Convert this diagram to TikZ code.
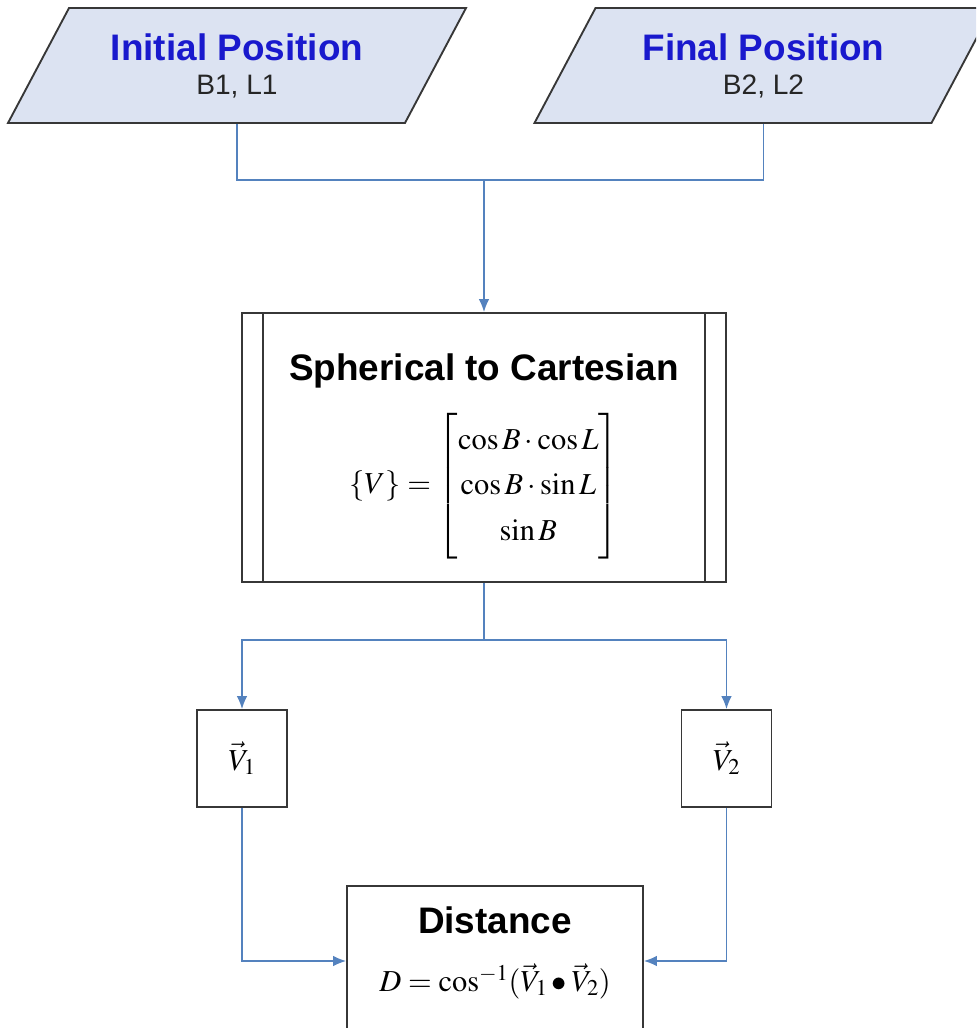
\documentclass[tikz,border=0pt]{standalone}
\usepackage{amsmath}
\usepackage{mathptmx}
\usepackage[no-math]{fontspec}
\newfontfamily\arial{Liberation Sans}
\usetikzlibrary{shapes.geometric,arrows.meta,positioning}
\definecolor{InputFill}{RGB}{220,227,242}
\definecolor{TitleBlue}{RGB}{25,25,205}
\definecolor{FlowBlue}{RGB}{84,130,190}
\definecolor{EdgeGray}{RGB}{55,55,55}

\begin{document}
\begin{tikzpicture}[
    inputbox/.style={trapezium, trapezium left angle=46.5, trapezium right angle=133.5,
      trapezium stretches body, draw=EdgeGray, line width=1.6pt, fill=InputFill,
      minimum width=13.74cm, minimum height=3.45cm, inner sep=0pt, align=center,
      font=\arial\fontsize{24}{29}\selectfont, text=black!85},
    procbox/.style={draw=EdgeGray, line width=1.6pt, fill=white, align=center, inner sep=0pt,
      font=\fontsize{26}{31}\selectfont},
    flow/.style={draw=FlowBlue, line width=1.2pt},
    flowarrow/.style={flow, -{Latex[length=11pt,width=9pt]}}
  ]
    \useasboundingbox (0,0) rectangle (29.28,-30.84);
    \clip (0,0) rectangle (29.28,-30.84);

    % inputs
    \node[inputbox] (init) at (7.11,-1.965)
      {{\color{TitleBlue}\bfseries\fontsize{31.5}{36}\selectfont Initial Position}\\B1, L1};
    \node[inputbox] (final) at (22.905,-1.965)
      {{\color{TitleBlue}\bfseries\fontsize{31.5}{36}\selectfont Final Position}\\B2, L2};
    \coordinate (merge) at (14.52,-5.4);

    % conversion
    \node[procbox, minimum width=14.52cm, minimum height=8.07cm] (sph) at (14.52,-13.425)
      {{\arial\bfseries\fontsize{31.5}{36}\selectfont\rule{0pt}{38pt}Spherical to Cartesian}\\[20pt]
       $\{V\}=\renewcommand{\arraystretch}{1.25}\begin{bmatrix}\cos B\cdot\cos L\\ \cos B\cdot\sin L\\ \sin B\end{bmatrix}$};
    \draw[EdgeGray, line width=1.6pt] ([xshift=0.66cm]sph.north west) -- ([xshift=0.66cm]sph.south west);
    \draw[EdgeGray, line width=1.6pt] ([xshift=-0.66cm]sph.north east) -- ([xshift=-0.66cm]sph.south east);
    \coordinate (split) at (14.52,-19.2);

    % vectors
    \node[procbox, minimum width=2.7cm, minimum height=2.91cm] (v1) at (7.26,-22.755) {$\vec{V}_1$};
    \node[procbox, minimum width=2.7cm, minimum height=2.91cm] (v2) at (21.795,-22.755) {$\vec{V}_2$};

    % result
    \node[procbox, minimum width=8.88cm, minimum height=4.5cm] (dist) at (14.85,-28.83)
      {{\arial\bfseries\fontsize{31.5}{36}\selectfont Distance}\\[18pt]
       $D=\cos^{-1}(\vec{V}_1\bullet\vec{V}_2)$\rule[-20pt]{0pt}{20pt}};

    \draw[flow] (init.south) |- (merge);
    \draw[flow] (final.south) |- (merge);
    \draw[flowarrow] (merge) -- (sph.north);
    \draw[flow] (sph.south) -- (split);
    \draw[flowarrow] (split) -| (v1.north);
    \draw[flowarrow] (split) -| (v2.north);
    \draw[flowarrow] (v1.south) |- (dist.west);
    \draw[flowarrow] (v2.south) |- (dist.east);
  \end{tikzpicture}
\end{document}
